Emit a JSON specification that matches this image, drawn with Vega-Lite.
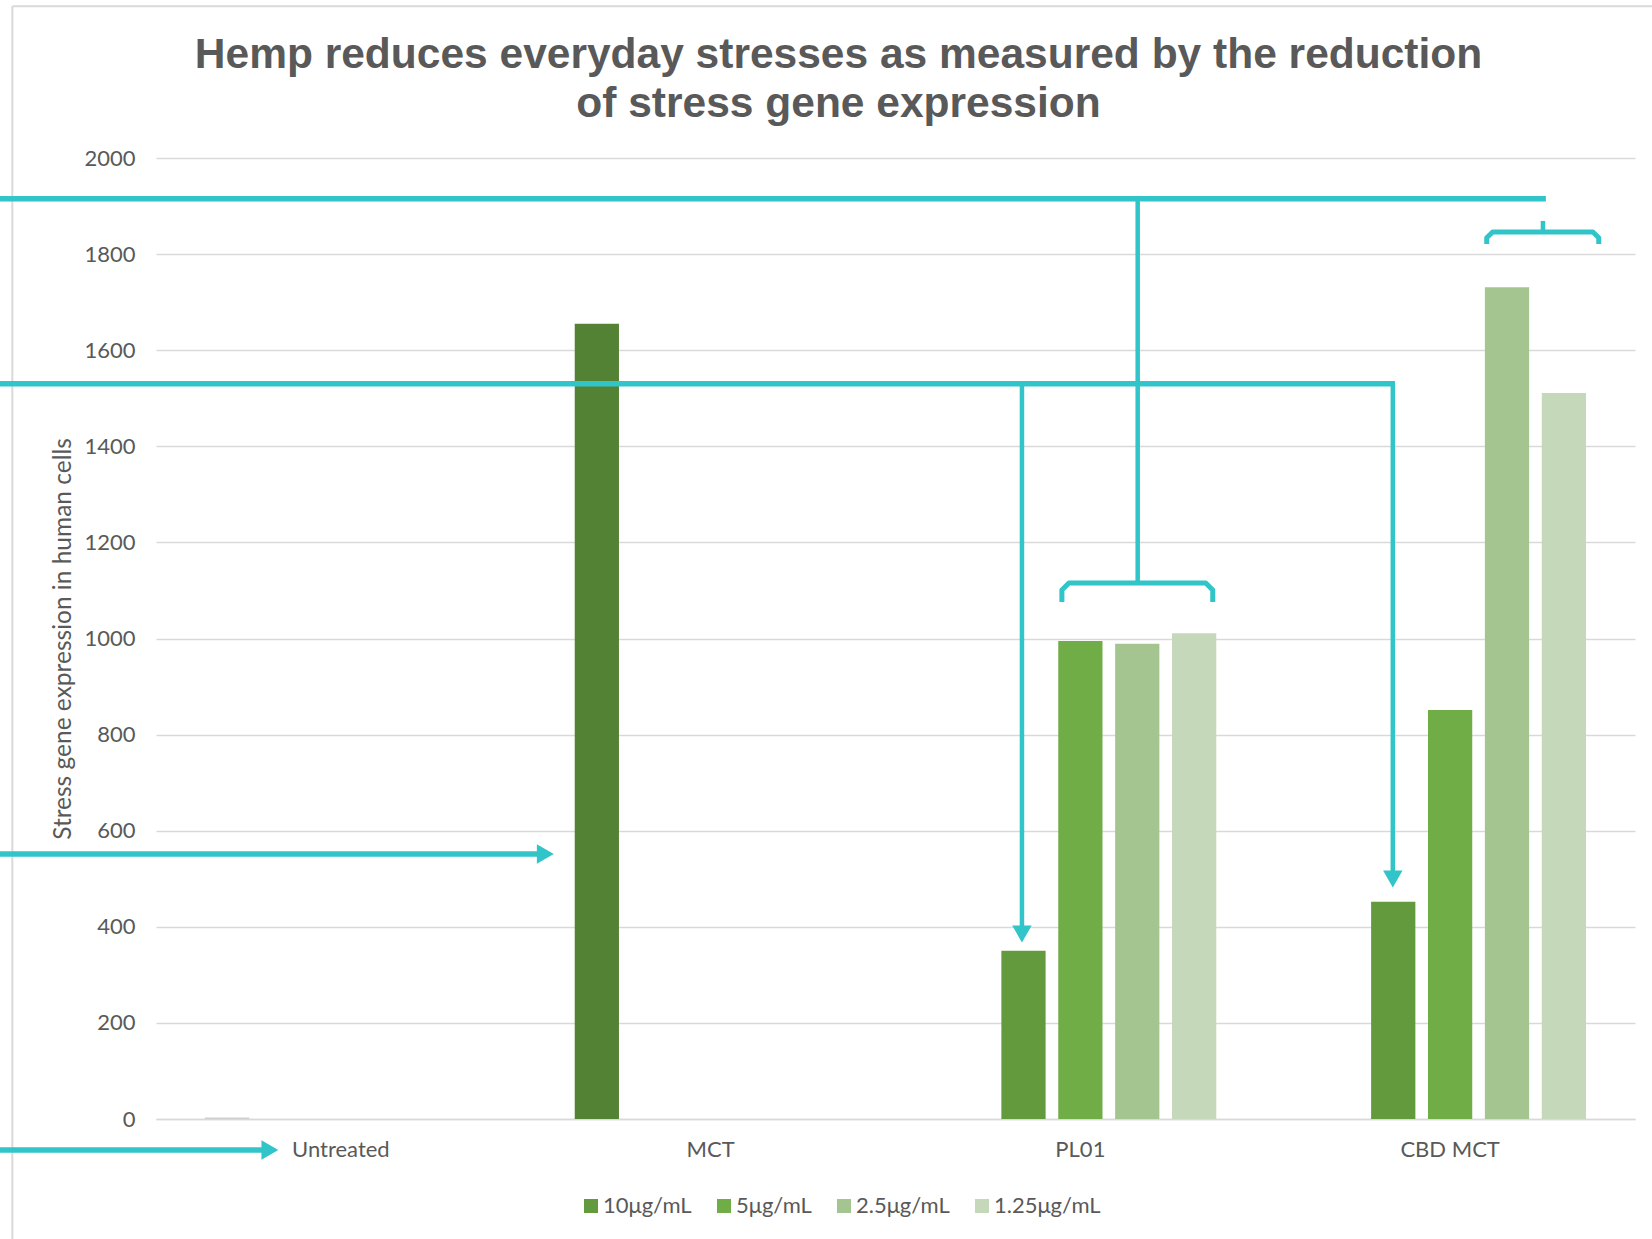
{
  "$schema": "https://vega.github.io/schema/vega-lite/v6.json",
  "autosize": "none",
  "width": 1479,
  "height": 961,
  "padding": {"left": 156, "top": 158, "right": 17, "bottom": 120},
  "background": "white",
  "config": {
    "view": {"stroke": null},
    "axis": {"labelFont": "Lato", "titleFont": "Lato", "labelColor": "#595959", "titleColor": "#595959", "labelFontSize": 22, "titleFontSize": 24.5, "titleFontWeight": "normal"},
    "legend": {"labelFont": "Lato", "labelFontSize": 22, "labelColor": "#595959"}
  },
  "title": {
    "text": ["Hemp reduces everyday stresses as measured by the reduction", "of stress gene expression"],
    "font": "Liberation Sans",
    "fontSize": 42.5,
    "fontWeight": "bold",
    "color": "#595959",
    "lineHeight": 49.5,
    "anchor": "middle",
    "frame": "group",
    "dx": -57,
    "dy": 141.7,
    "offset": 21.5
  },
  "datasets": {
    "bars": [
      {"group": "Untreated", "slot": "s0", "series": "Untreated", "value": 3},
      {"group": "MCT", "slot": "s0", "series": "MCT", "value": 1655},
      {"group": "PL01", "slot": "s1", "series": "10μg/mL", "value": 350},
      {"group": "PL01", "slot": "s2", "series": "5μg/mL", "value": 995},
      {"group": "PL01", "slot": "s3", "series": "2.5μg/mL", "value": 989},
      {"group": "PL01", "slot": "s4", "series": "1.25μg/mL", "value": 1011},
      {"group": "CBD MCT", "slot": "s1", "series": "10μg/mL", "value": 452},
      {"group": "CBD MCT", "slot": "s2", "series": "5μg/mL", "value": 851},
      {"group": "CBD MCT", "slot": "s3", "series": "2.5μg/mL", "value": 1731},
      {"group": "CBD MCT", "slot": "s4", "series": "1.25μg/mL", "value": 1511}
    ],
    "frame": [
      {"u": -0.3886, "u2": 4.07, "v": 2315.7, "v2": 2315.7},
      {"u": -0.3886, "u2": -0.3886, "v": 2315.7, "v2": -270}
    ],
    "hlines": [
      {"u": -0.43, "u2": 3.759, "v": 1915},
      {"u": -0.43, "u2": 3.351, "v": 1530},
      {"u": -0.43, "u2": 1.053, "v": 551.5},
      {"u": -0.43, "u2": 0.308, "v": -64.5}
    ],
    "vlines": [
      {"u": 2.655, "v": 1915, "v2": 1113},
      {"u": 2.342, "v": 1530, "v2": 385},
      {"u": 3.345, "v": 1530, "v2": 499.5},
      {"u": 3.751, "v": 1844, "v2": 1869}
    ],
    "brackets": [
      {"b": "PL01", "i": 1, "u": 2.450, "v": 1076},
      {"b": "PL01", "i": 2, "u": 2.450, "v": 1101},
      {"b": "PL01", "i": 3, "u": 2.469, "v": 1115.5},
      {"b": "PL01", "i": 4, "u": 2.839, "v": 1115.5},
      {"b": "PL01", "i": 5, "u": 2.858, "v": 1101},
      {"b": "PL01", "i": 6, "u": 2.858, "v": 1076},
      {"b": "CBD", "i": 1, "u": 3.599, "v": 1821},
      {"b": "CBD", "i": 2, "u": 3.599, "v": 1834},
      {"b": "CBD", "i": 3, "u": 3.615, "v": 1846},
      {"b": "CBD", "i": 4, "u": 3.886, "v": 1846},
      {"b": "CBD", "i": 5, "u": 3.902, "v": 1834},
      {"b": "CBD", "i": 6, "u": 3.902, "v": 1821}
    ],
    "heads": [
      {"u": 1.053, "v": 551.5, "dir": "right"},
      {"u": 0.308, "v": -64.5, "dir": "right"},
      {"u": 2.342, "v": 385, "dir": "down"},
      {"u": 3.345, "v": 499.5, "dir": "down"}
    ]
  },
  "layer": [
    {
      "data": {"name": "frame"},
      "mark": {"type": "rule", "color": "#D9D9D9", "strokeWidth": 2},
      "encoding": {
        "x": {"field": "u", "type": "quantitative", "scale": {"domain": [0, 4], "nice": false, "zero": false}, "axis": null},
        "x2": {"field": "u2"},
        "y": {"field": "v", "type": "quantitative", "scale": {"domain": [0, 2000], "nice": false}, "axis": null},
        "y2": {"field": "v2"}
      }
    },
    {
      "data": {"name": "bars"},
      "mark": {"type": "bar"},
      "encoding": {
        "x": {
          "field": "group", "type": "nominal",
          "sort": ["Untreated", "MCT", "PL01", "CBD MCT"],
          "scale": {"paddingInner": 0, "paddingOuter": 0},
          "axis": {"title": null, "labelAngle": 0, "ticks": false, "labelPadding": 20, "domain": true, "domainColor": "#D9D9D9", "domainWidth": 1.5, "grid": false}
        },
        "xOffset": {
          "field": "slot", "type": "nominal",
          "scale": {"domain": ["s0", "s1", "s2", "s3", "s4"], "paddingInner": 0.2222, "paddingOuter": 0.861}
        },
        "y": {
          "field": "value", "type": "quantitative",
          "scale": {"domain": [0, 2000], "nice": false},
          "axis": {"title": "Stress gene expression in human cells", "format": "d", "values": [0, 200, 400, 600, 800, 1000, 1200, 1400, 1600, 1800, 2000], "grid": true, "gridColor": "#D9D9D9", "gridWidth": 1.5, "domain": false, "ticks": false, "labelPadding": 21, "titlePadding": 8, "zindex": 0}
        },
        "color": {
          "field": "series", "type": "nominal",
          "scale": {
            "domain": ["10μg/mL", "5μg/mL", "2.5μg/mL", "1.25μg/mL", "MCT", "Untreated"],
            "range": ["#639A3E", "#70AD47", "#A5C590", "#C5D8BA", "#548235", "#D0D0D0"]
          },
          "legend": {
            "orient": "none", "direction": "horizontal", "legendX": 424, "legendY": 1037,
            "values": ["10μg/mL", "5μg/mL", "2.5μg/mL", "1.25μg/mL"],
            "title": null, "symbolType": "square", "symbolSize": 196, "symbolStrokeWidth": 0,
            "labelOffset": 1, "columnPadding": 21
          }
        }
      }
    },
    {
      "data": {"name": "hlines"},
      "mark": {"type": "rule", "color": "#31C4C8", "strokeWidth": 5.5},
      "encoding": {
        "x": {"field": "u", "type": "quantitative", "scale": {"domain": [0, 4], "nice": false, "zero": false}, "axis": null},
        "x2": {"field": "u2"},
        "y": {"field": "v", "type": "quantitative", "scale": {"domain": [0, 2000], "nice": false}, "axis": null}
      }
    },
    {
      "data": {"name": "vlines"},
      "mark": {"type": "rule", "color": "#31C4C8", "strokeWidth": 4.5},
      "encoding": {
        "x": {"field": "u", "type": "quantitative", "scale": {"domain": [0, 4], "nice": false, "zero": false}, "axis": null},
        "y": {"field": "v", "type": "quantitative", "scale": {"domain": [0, 2000], "nice": false}, "axis": null},
        "y2": {"field": "v2"}
      }
    },
    {
      "data": {"name": "brackets"},
      "mark": {"type": "line", "color": "#31C4C8", "strokeWidth": 5, "strokeJoin": "round"},
      "encoding": {
        "x": {"field": "u", "type": "quantitative", "scale": {"domain": [0, 4], "nice": false, "zero": false}, "axis": null},
        "y": {"field": "v", "type": "quantitative", "scale": {"domain": [0, 2000], "nice": false}, "axis": null},
        "detail": {"field": "b", "type": "nominal"},
        "order": {"field": "i", "type": "quantitative"}
      }
    },
    {
      "data": {"name": "heads"},
      "mark": {"type": "point", "filled": true, "color": "#31C4C8", "opacity": 1, "size": 380, "strokeWidth": 0},
      "encoding": {
        "x": {"field": "u", "type": "quantitative", "scale": {"domain": [0, 4], "nice": false, "zero": false}, "axis": null},
        "y": {"field": "v", "type": "quantitative", "scale": {"domain": [0, 2000], "nice": false}, "axis": null},
        "shape": {"field": "dir", "type": "nominal", "scale": {"domain": ["down", "right"], "range": ["triangle-down", "triangle-right"]}, "legend": null}
      }
    }
  ],
  "resolve": {"scale": {"x": "independent"}, "axis": {"x": "independent", "y": "independent"}}
}
